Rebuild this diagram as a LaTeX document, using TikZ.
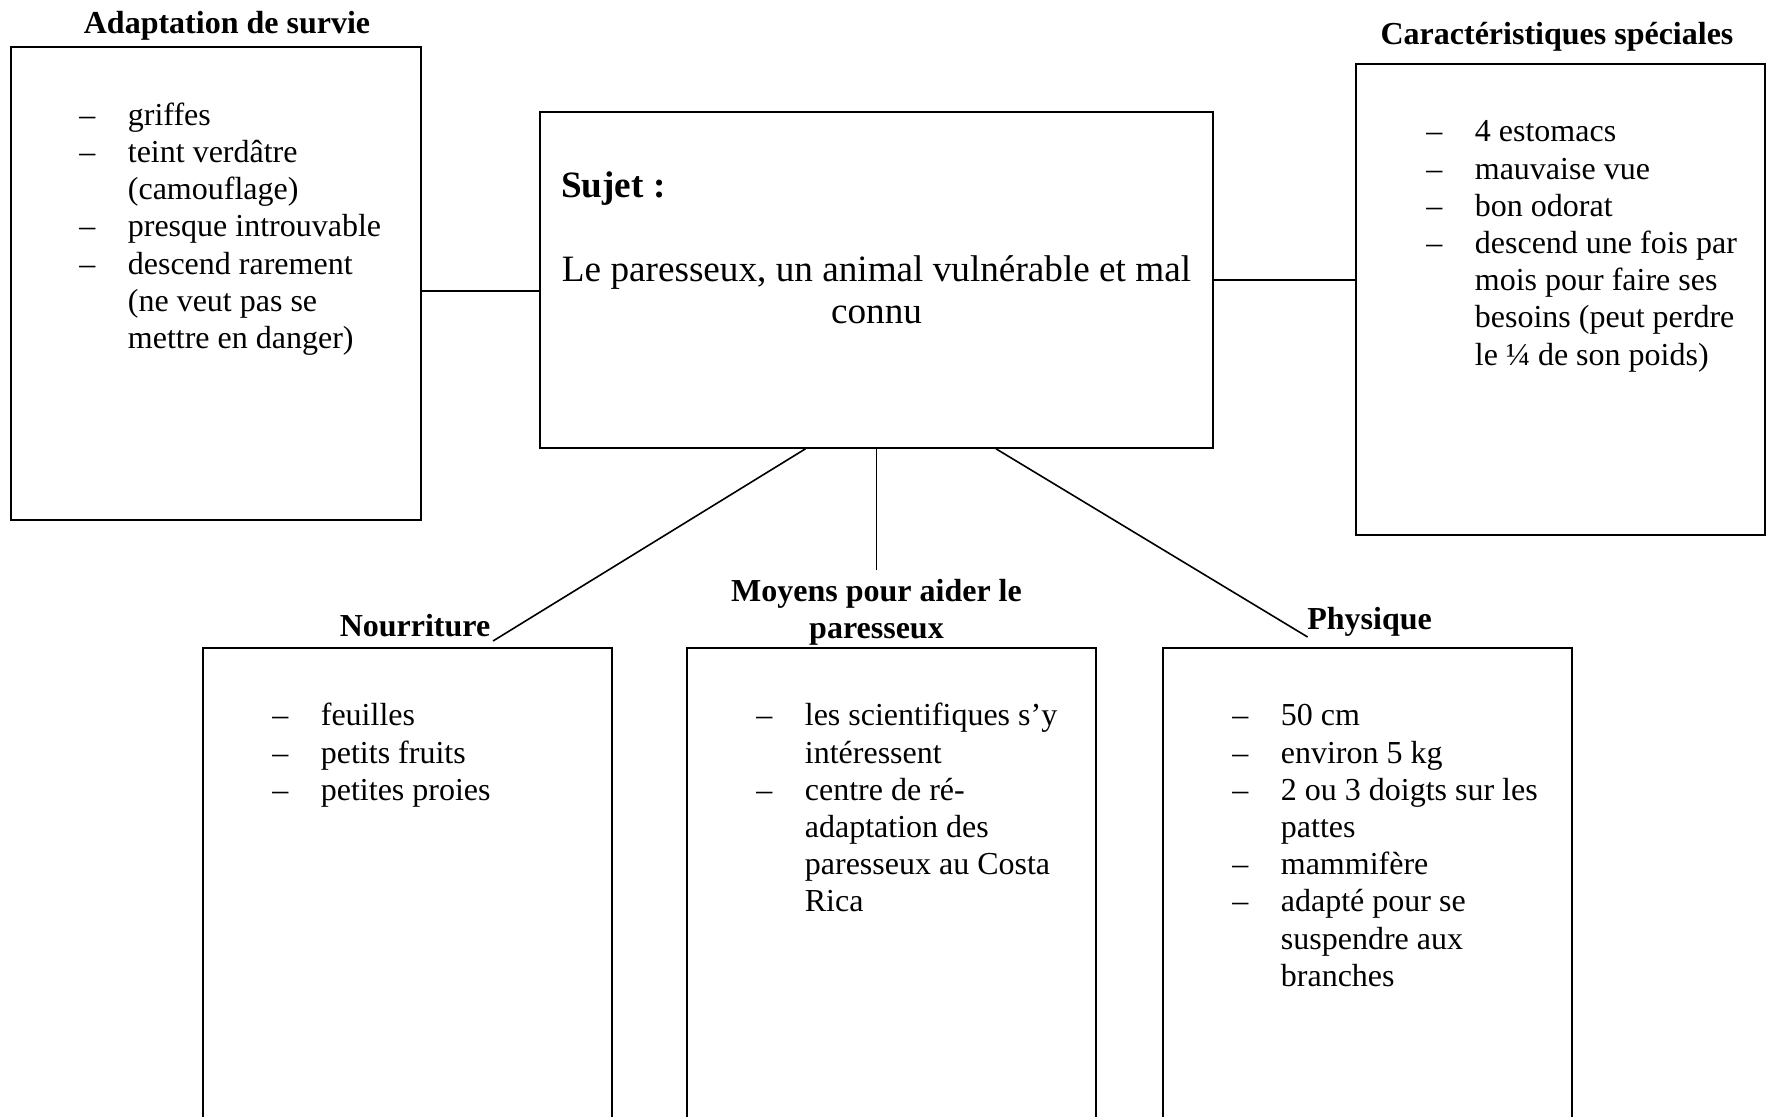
\documentclass[tikz,border=0pt]{standalone}
\usepackage{fontspec}
\setmainfont{Liberation Serif}
\usepackage{array}
\usetikzlibrary{fit,calc}
\newcommand\mylist[1]{\begin{tabular}{@{}p{24.25pt}@{}l@{}}#1\end{tabular}}
\begin{document}
\begin{tikzpicture}[x=0.5pt,y=-0.5pt,
  box/.style={draw, line width=0.8pt, inner sep=0pt},
  conn/.style={line width=0.8pt},
  ttl/.style={font=\fontsize{16}{18.6}\selectfont\bfseries, inner sep=0pt, anchor=base},
  lst/.style={font=\fontsize{16}{18.6}\selectfont, inner sep=0pt, anchor=north west},
  subj/.style={font=\fontsize{18.6}{21}\selectfont, inner sep=0pt}
]
\useasboundingbox (0,0) rectangle (1769,1117);
\clip (0,0) rectangle (1769,1117);

% boxes
\node[box, fit={(11,47) (421,520)}] (A) {};
\node[box, fit={(540,112) (1213,448)}] (C) {};
\node[box, fit={(1356,64) (1765,535)}] (R) {};
\node[box, fit={(203,648) (612,1135)}] (N) {};
\node[box, fit={(687,648) (1096,1135)}] (M) {};
\node[box, fit={(1163,648) (1572,1135)}] (P) {};

% titles
\node[ttl] (tA) at (227,33.5) {Adaptation de survie};
\node[ttl] (tR) at (1557,44.4) {Caractéristiques spéciales};
\node[ttl] (tN) at (415,636.3) {Nourriture};
\node[ttl] (tM1) at (876.5,601.4) {Moyens pour aider le};
\node[ttl] (tM2) at (876.5,638.4) {paresseux};
\node[ttl] (tP) at (1369.6,630) {Physique};

% center text
\node[subj, font=\fontsize{18.6}{21}\selectfont\bfseries, anchor=base west] (sj) at (560.7,197.3) {Sujet :};
\node[subj, anchor=base] (st1) at (876.5,281.5) {Le paresseux, un animal vulnérable et mal};
\node[subj, anchor=base] (st2) at (876.5,323.5) {connu};

% lists
\node[lst] (lA) at (79,98.8) {\mylist{
– & griffes\\
– & teint verdâtre\\
  & (camouflage)\\
– & presque introuvable\\
– & descend rarement\\
  & (ne veut pas se\\
  & mettre en danger)}};
\node[lst] (lR) at (1426,115.4) {\mylist{
– & 4 estomacs\\
– & mauvaise vue\\
– & bon odorat\\
– & descend une fois par\\
  & mois pour faire ses\\
  & besoins (peut perdre\\
  & le ¼ de son poids)}};
\node[lst] (lN) at (272,699.5) {\mylist{
– & feuilles\\
– & petits fruits\\
– & petites proies}};
\node[lst] (lM) at (756,699.5) {\mylist{
– & les scientifiques s’y\\
  & intéressent\\
– & centre de ré-\\
  & adaptation des\\
  & paresseux au Costa\\
  & Rica}};
\node[lst] (lP) at (1232,699.5) {\mylist{
– & 50 cm\\
– & environ 5 kg\\
– & 2 ou 3 doigts sur les\\
  & pattes\\
– & mammifère\\
– & adapté pour se\\
  & suspendre aux\\
  & branches}};

% connectors
\coordinate (yl) at (0,291);
\draw[conn] (A.east |- yl) -- (C.west |- yl);
\draw[conn] (C.east) -- (C.east -| R.west);
\coordinate (n1) at (493,641);
\coordinate (n2) at (876.5,570);
\coordinate (n3) at (1307.6,637);
\draw[conn] ($(C.south)+(-71,0)$) -- (n1);
\draw[conn] (C.south) -- (n2);
\draw[conn] ($(C.south)+(119.5,0)$) -- (n3);
\end{tikzpicture}
\end{document}
